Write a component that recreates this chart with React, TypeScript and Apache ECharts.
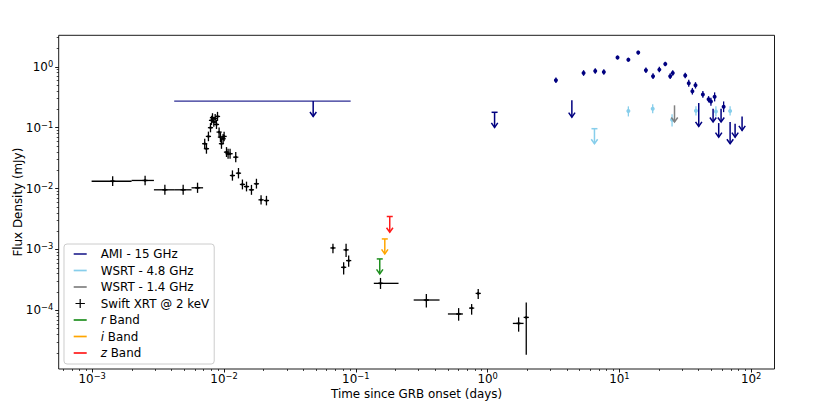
import React, { useEffect, useRef } from 'react';
import * as echarts from 'echarts';

const FONT = 'DejaVu Sans';
const FS = 11.9;

// ---- axis ranges / ticks ----
const X_MIN = 5.57e-4;
const X_MAX = 150.3;
const Y_MIN = 1.09e-5;
const Y_MAX = 3.29;
const xMajorTicks = [1e-3, 1e-2, 1e-1, 1, 10, 100];
const yMajorTicks = [1e-4, 1e-3, 1e-2, 1e-1, 1];
const minorMultipliers = [2, 3, 4, 5, 6, 7, 8, 9];
const xDecades = [-4, -3, -2, -1, 0, 1, 2];
const yDecades = [-5, -4, -3, -2, -1, 0];

// ---- Swift XRT @ 2 keV ----
const xrtTime = [
  0.00143, 0.00252, 0.00356, 0.0049, 0.0063,
  0.00714, 0.00736, 0.00762, 0.0079, 0.00804, 0.00818, 0.00837, 0.00857, 0.00877, 0.00893,
  0.00918, 0.0094, 0.00957, 0.00985, 0.01002, 0.01045, 0.01074, 0.01112, 0.01228, 0.01159,
  0.01288, 0.0138, 0.01482, 0.01616, 0.01763, 0.01911, 0.021,
  0.0671, 0.0809, 0.0844, 0.0883, 0.154, 0.343, 0.603, 0.757, 0.849, 1.72, 1.965,
];
const xrtTimeLo = [
  0.00099, 0.00199, 0.00294, 0.00424, 0.00567,
  null, null, null, null, null, null, null, null, null, null,
  null, null, null, null, null, null, null, null, null, null,
  null, null, null, null, null, null, null,
  null, null, null, null, 0.137, 0.275, 0.5, null, null, 1.555, null,
];
const xrtTimeHi = [
  0.00199, 0.00294, 0.00424, 0.00567, 0.00694,
  null, null, null, null, null, null, null, null, null, null,
  null, null, null, null, null, null, null, null, null, null,
  null, null, null, null, null, null, null,
  null, null, null, null, 0.211, 0.432, 0.65, null, null, 1.875, null,
];
const xrtFlux = [
  0.0132, 0.0136, 0.00955, 0.00955, 0.0103,
  0.0546, 0.0452, 0.0719, 0.1, 0.132, 0.146, 0.124, 0.141, 0.113, 0.153,
  0.0847, 0.07, 0.0546, 0.0659, 0.0719, 0.0397, 0.0374, 0.0374, 0.0328, 0.0164,
  0.0179, 0.0117, 0.0108, 0.00955, 0.012, 0.00654, 0.00637,
  0.00106, 0.00051, 0.000985, 0.000657, 0.000278, 0.000148, 8.73e-5, 0.000109, 0.00019, 6.11e-5, 7.67e-5,
];
const xrtFluxLo = [
  0.011, 0.0113, 0.0079, 0.0079, 0.0085,
  0.0452, 0.0374, 0.06, 0.084, 0.111, 0.123, 0.104, 0.118, 0.095, 0.129,
  0.071, 0.058, 0.045, 0.055, 0.06, 0.033, 0.031, 0.031, 0.027, 0.0135,
  0.0147, 0.0097, 0.009, 0.0079, 0.01, 0.0055, 0.0053,
  0.000866, 0.000387, 0.000753, 0.000523, 0.000225, 0.000112, 6.77e-5, 8.5e-5, 0.000154, 4.47e-5, 1.87e-5,
];
const xrtFluxHi = [
  0.0159, 0.0163, 0.0116, 0.0116, 0.0125,
  0.066, 0.0546, 0.0862, 0.119, 0.157, 0.173, 0.148, 0.168, 0.134, 0.182,
  0.101, 0.084, 0.066, 0.079, 0.086, 0.048, 0.045, 0.045, 0.04, 0.0199,
  0.0218, 0.0141, 0.013, 0.0115, 0.0145, 0.0078, 0.0076,
  0.00124, 0.000615, 0.00124, 0.000794, 0.000341, 0.000186, 0.000109, 0.000127, 0.000225, 7.67e-5, 0.000135,
];

// ---- AMI 15 GHz detections ----
const amiTime = [3.3, 5.35, 6.56, 7.62, 9.68, 11.7, 13.9, 15.9, 18.0, 20.1, 22.3, 24.3, 25.4, 31.6, 33.6, 35.8, 37.8, 43.0, 47.5, 49.5, 52.8, 61.8];
const amiFlux = [0.6, 0.791, 0.853, 0.821, 1.42, 1.31, 1.71, 0.876, 0.698, 0.899, 1.11, 0.698, 0.791, 0.719, 0.535, 0.398, 0.496, 0.35, 0.294, 0.269, 0.321, 0.22];
const amiFluxLo = [0.54, 0.71, 0.77, 0.74, 1.32, 1.22, 1.59, 0.79, 0.63, 0.81, 1.02, 0.63, 0.71, 0.65, 0.47, 0.35, 0.44, 0.31, 0.26, 0.23, 0.27, 0.18];
const amiFluxHi = [0.67, 0.88, 0.95, 0.91, 1.53, 1.41, 1.84, 0.97, 0.78, 1.0, 1.21, 0.78, 0.88, 0.8, 0.61, 0.45, 0.56, 0.4, 0.33, 0.31, 0.38, 0.27];

// ---- AMI 15 GHz upper limits (value, arrow tip) ----
const amiLimTime = [0.0475, 4.36, 40.0, 51.4, 56.7, 59.1, 69.2, 75.5, 85.3];
const amiLimFlux = [0.274, 0.281, 0.254, 0.205, 0.119, 0.205, 0.124, 0.116, 0.153];
const amiLimTip = [0.153, 0.149, 0.105, 0.124, 0.07, 0.124, 0.0546, 0.07, 0.0903];
const amiLimTimeLo = [0.00419, null, null, null, null, null, null, null, null];
const amiLimTimeHi = [0.0914, null, null, null, null, null, null, null, null];
const amiCapLimTime = [1.13];
const amiCapLimFlux = [0.179];
const amiCapLimTip = [0.101];

// ---- WSRT 4.8 GHz ----
const wsrt48Time = [11.7, 17.9, 25.1, 38.1, 54.0, 69.2];
const wsrt48Flux = [0.1875, 0.205, 0.135, 0.189, 0.185, 0.1875];
const wsrt48FluxLo = [0.153, 0.172, 0.105, 0.159, 0.153, 0.159];
const wsrt48FluxHi = [0.224, 0.242, 0.166, 0.224, 0.224, 0.224];
const wsrt48LimTime = [6.47];
const wsrt48LimFlux = [0.0963];
const wsrt48LimTip = [0.0546];

// ---- WSRT 1.4 GHz ----
const wsrt14LimTime = [26.2];
const wsrt14LimFlux = [0.233];
const wsrt14LimTip = [0.124];

// ---- optical upper limits ----
const rLimTime = [0.152];
const rLimFlux = [0.0007];
const rLimTip = [0.000397];
const iLimTime = [0.166];
const iLimFlux = [0.00149];
const iLimTip = [0.000847];
const zLimTime = [0.181];
const zLimFlux = [0.00348];
const zLimTip = [0.00192];

const NAVY = '#000080';
const NAVY_LINE = '#2b2b93';
const SKY = '#87ceeb';
const GRAY = '#808080';
const GREEN = '#1f8f1f';
const ORANGE = '#ffa500';
const RED = '#ff1a1a';

const legendNames = ['AMI - 15 GHz', 'WSRT - 4.8 GHz', 'WSRT - 1.4 GHz', 'Swift XRT @ 2 keV', 'r Band', 'i Band', 'z Band'];
const legendColors = [NAVY_LINE, SKY, GRAY, '#000000', GREEN, ORANGE, RED];

function errRows(t: number[], f: number[], fLo: number[], fHi: number[], tLo?: (number | null)[], tHi?: (number | null)[]) {
  return t.map((v, i) => [v, f[i], (tLo && tLo[i]) ?? v, (tHi && tHi[i]) ?? v, fLo[i], fHi[i]]);
}
function limRows(t: number[], f: number[], tip: number[], tLo?: (number | null)[], tHi?: (number | null)[]) {
  return t.map((v, i) => [v, f[i], tip[i], (tLo && tLo[i]) ?? v, (tHi && tHi[i]) ?? v]);
}

function errRenderer(color: string, marker: 'plus' | 'dot', lw: number) {
  return (_params: any, api: any) => {
    const t = api.value(0);
    const f = api.value(1);
    const c = api.coord([t, f]);
    const l = api.coord([api.value(2), f]);
    const r = api.coord([api.value(3), f]);
    const lo = api.coord([t, api.value(4)]);
    const hi = api.coord([t, api.value(5)]);
    const style = { stroke: color, lineWidth: lw, fill: null };
    const children: any[] = [];
    if (r[0] - l[0] > 0.5) {
      children.push({ type: 'line', shape: { x1: l[0], y1: c[1], x2: r[0], y2: c[1] }, style });
    }
    children.push({ type: 'line', shape: { x1: c[0], y1: hi[1], x2: c[0], y2: lo[1] }, style });
    if (marker === 'plus') {
      children.push({ type: 'line', shape: { x1: c[0] - 2.6, y1: c[1], x2: c[0] + 2.6, y2: c[1] }, style });
      children.push({ type: 'circle', shape: { cx: c[0], cy: c[1], r: 1.3 }, style: { fill: color } });
    } else {
      children.push({ type: 'circle', shape: { cx: c[0], cy: c[1], r: 2 }, style: { fill: color } });
    }
    return { type: 'group', children };
  };
}

function limRenderer(color: string, lw: number, cap: boolean, spanColor?: string) {
  return (_params: any, api: any) => {
    const t = api.value(0);
    const f = api.value(1);
    const top = api.coord([t, f]);
    const bot = api.coord([t, api.value(2)]);
    const l = api.coord([api.value(3), f]);
    const r = api.coord([api.value(4), f]);
    const style = { stroke: color, lineWidth: lw, fill: null };
    const children: any[] = [];
    if (r[0] - l[0] > 0.5) {
      children.push({
        type: 'line',
        shape: { x1: l[0], y1: top[1], x2: r[0], y2: top[1] },
        style: { stroke: spanColor || color, lineWidth: 1.3 },
      });
    }
    children.push({ type: 'line', shape: { x1: top[0], y1: top[1], x2: bot[0], y2: bot[1] }, style });
    children.push({
      type: 'polyline',
      shape: { points: [[bot[0] - 3.2, bot[1] - 4.5], [bot[0], bot[1]], [bot[0] + 3.2, bot[1] - 4.5]] },
      style,
    });
    if (cap) {
      children.push({ type: 'line', shape: { x1: top[0] - 3, y1: top[1], x2: top[0] + 3, y2: top[1] }, style });
    }
    return { type: 'group', children };
  };
}

function powLabel(v: number) {
  const e = Math.round(Math.log10(v));
  const s = e < 0 ? '\u2212' + String(-e) : String(e);
  return '{b|10}{s|' + s + '}';
}

const labelRich = {
  b: { fontFamily: FONT, fontSize: FS, color: '#000', lineHeight: 14, verticalAlign: 'middle' },
  s: { fontFamily: FONT, fontSize: 8.3, color: '#000', lineHeight: 6.5, verticalAlign: 'top' },
};

export default function App() {
  const ref = useRef<HTMLDivElement>(null);
  useEffect(() => {
    if (!ref.current) return;
    const chart = echarts.init(ref.current, undefined, { renderer: 'svg' });
    const xMinorTicks = xDecades
      .flatMap((d) => minorMultipliers.map((m) => m * Math.pow(10, d)))
      .filter((v) => v > X_MIN && v < X_MAX);
    const yMinorTicks = yDecades
      .flatMap((d) => minorMultipliers.map((m) => m * Math.pow(10, d)))
      .filter((v) => v > Y_MIN && v < Y_MAX);

    const axisCommon = {
      type: 'log',
      logBase: 10,
      axisLine: { show: false },
      splitLine: { show: false },
      minorTick: { show: false },
      minorSplitLine: { show: false },
    };

    const custom = (name: string, data: number[][], renderItem: any, color: string, z: number) => ({
      type: 'custom',
      name,
      data,
      renderItem,
      encode: { x: 0, y: 1 },
      itemStyle: { color },
      z,
      silent: true,
    });

    const option: any = {
      animation: false,
      backgroundColor: '#ffffff',
      textStyle: { fontFamily: FONT },
      grid: {
        left: 58.7,
        right: 55.5,
        top: 35.3,
        bottom: 47,
        show: true,
        borderColor: '#000',
        borderWidth: 0.9,
        backgroundColor: 'transparent',
        containLabel: false,
        outerBoundsMode: 'none',
      },
      xAxis: [
        {
          ...axisCommon,
          min: X_MIN,
          max: X_MAX,
          position: 'bottom',
          axisTick: { show: true, length: 3.5, lineStyle: { color: '#000', width: 0.9 }, customValues: xMajorTicks },
          axisLabel: { show: true, customValues: xMajorTicks, formatter: powLabel, rich: labelRich, margin: 3 },
          name: 'Time since GRB onset (days)',
          nameLocation: 'middle',
          nameGap: 18.5,
          nameMoveOverlap: false,
          nameTextStyle: { fontFamily: FONT, fontSize: FS, color: '#000' },
        },
        {
          ...axisCommon,
          min: X_MIN,
          max: X_MAX,
          position: 'bottom',
          axisTick: { show: true, length: 2, lineStyle: { color: '#000', width: 0.7 }, customValues: xMinorTicks },
          axisLabel: { show: false },
        },
      ],
      yAxis: [
        {
          ...axisCommon,
          min: Y_MIN,
          max: Y_MAX,
          position: 'left',
          axisTick: { show: true, length: 3.5, lineStyle: { color: '#000', width: 0.9 }, customValues: yMajorTicks },
          axisLabel: { show: true, customValues: yMajorTicks, formatter: powLabel, rich: labelRich, margin: 5.5 },
          name: 'Flux Density (mJy)',
          nameLocation: 'middle',
          nameGap: 35,
          nameRotate: 90,
          nameMoveOverlap: false,
          nameTextStyle: { fontFamily: FONT, fontSize: FS, color: '#000' },
        },
        {
          ...axisCommon,
          min: Y_MIN,
          max: Y_MAX,
          position: 'left',
          axisTick: { show: true, length: 2, lineStyle: { color: '#000', width: 0.7 }, customValues: yMinorTicks },
          axisLabel: { show: false },
        },
      ],
      legend: {
        orient: 'vertical',
        left: 64,
        top: 244,
        padding: [3, 5, 4, 9.7],
        itemGap: 2.5,
        itemWidth: 13,
        itemHeight: 9,
        selectedMode: false,
        backgroundColor: 'rgba(255,255,255,0.8)',
        borderColor: '#cccccc',
        borderWidth: 1,
        borderRadius: 3,
        textStyle: {
          fontFamily: FONT,
          fontSize: FS,
          color: '#000',
          lineHeight: 14,
          padding: [0, 0, 0, 9],
          rich: {
            it: { fontFamily: FONT, fontSize: FS, fontStyle: 'italic', color: '#000', lineHeight: 14 },
          },
        },
        formatter: (name: string) => {
          const m = /^([riz]) Band$/.exec(name);
          return m ? '{it|' + m[1] + '} Band' : name;
        },
        data: legendNames.map((n, i) => ({
          name: n,
          icon:
            n === 'Swift XRT @ 2 keV'
              ? 'path://M4.1,0 L5.3,0 L5.3,9 L4.1,9 Z M0,3.9 L9.4,3.9 L9.4,5.1 L0,5.1 Z'
              : 'path://M0,0 L13,0 L13,1.7 L0,1.7 Z',
          itemStyle: { color: legendColors[i], borderWidth: 0 },
        })),
      },
      series: [
        custom('Swift XRT @ 2 keV', errRows(xrtTime, xrtFlux, xrtFluxLo, xrtFluxHi, xrtTimeLo, xrtTimeHi), errRenderer('#000000', 'plus', 1.3), '#000000', 3),
        custom('WSRT - 4.8 GHz', errRows(wsrt48Time, wsrt48Flux, wsrt48FluxLo, wsrt48FluxHi), errRenderer(SKY, 'dot', 1.3), SKY, 3),
        custom('WSRT - 4.8 GHz', limRows(wsrt48LimTime, wsrt48LimFlux, wsrt48LimTip), limRenderer(SKY, 1.5, true), SKY, 3),
        custom('WSRT - 1.4 GHz', limRows(wsrt14LimTime, wsrt14LimFlux, wsrt14LimTip), limRenderer(GRAY, 1.5, false), GRAY, 3),
        custom('AMI - 15 GHz', limRows(amiLimTime, amiLimFlux, amiLimTip, amiLimTimeLo, amiLimTimeHi), limRenderer(NAVY, 1.5, false, NAVY_LINE), NAVY, 4),
        custom('AMI - 15 GHz', limRows(amiCapLimTime, amiCapLimFlux, amiCapLimTip), limRenderer(NAVY, 1.5, true), NAVY, 4),
        custom('AMI - 15 GHz', errRows(amiTime, amiFlux, amiFluxLo, amiFluxHi), errRenderer(NAVY, 'dot', 1.3), NAVY, 4),
        custom('r Band', limRows(rLimTime, rLimFlux, rLimTip), limRenderer(GREEN, 1.5, true), GREEN, 3),
        custom('i Band', limRows(iLimTime, iLimFlux, iLimTip), limRenderer(ORANGE, 1.5, true), ORANGE, 3),
        custom('z Band', limRows(zLimTime, zLimFlux, zLimTip), limRenderer(RED, 1.5, true), RED, 3),
      ],
    };
    chart.setOption(option);
    return () => chart.dispose();
  }, []);
  return (
    <div
      ref={ref}
      style={{ position: 'absolute', left: 0, top: 0, width: 830, height: 416, background: '#fff' }}
    />
  );
}
